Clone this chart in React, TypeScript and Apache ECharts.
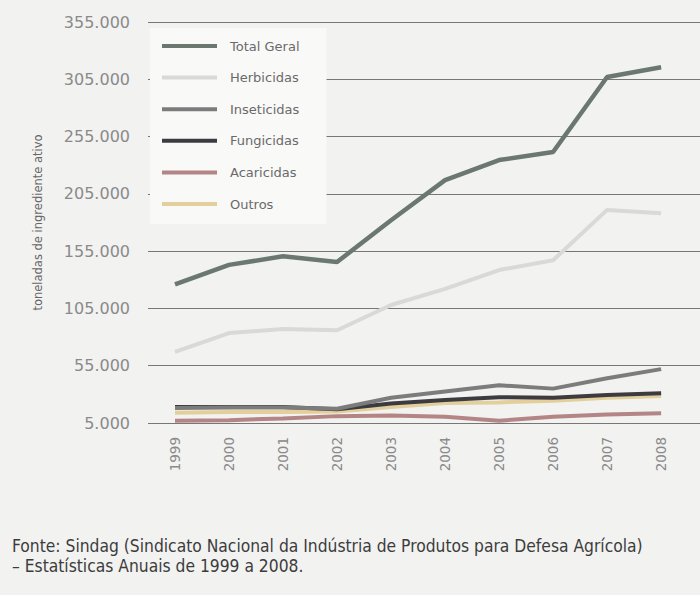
import React, { useEffect, useRef } from "react";
import * as echarts from "echarts";

const years = [1999, 2000, 2001, 2002, 2003, 2004, 2005, 2006, 2007, 2008];
const totalGeral = [126000, 143000, 150500, 145500, 182000, 217000, 234500, 241500, 307000, 315500];
const herbicidas = [67000, 83500, 87000, 86000, 108000, 122000, 138500, 147000, 191000, 188000];
const inseticidas = [18000, 18500, 18500, 17500, 27000, 32500, 38000, 35000, 44000, 52000];
const fungicidas = [19000, 19000, 19000, 17000, 22000, 25000, 27500, 27000, 29500, 31000];
const acaricidas = [7000, 7500, 9000, 11000, 11500, 10500, 7000, 10500, 12500, 13500];
const outros = [14000, 14500, 14500, 15000, 19000, 22500, 23000, 24500, 27000, 28500];

const seriesNames = ["Total Geral", "Herbicidas", "Inseticidas", "Fungicidas", "Acaricidas", "Outros"];
const seriesData = [totalGeral, herbicidas, inseticidas, fungicidas, acaricidas, outros];
const seriesColors = ["#6b786f", "#d9d9d7", "#7c7c7c", "#3d3b40", "#b48585", "#e3cf9c"];

const yAxisName = "toneladas de ingrediente ativo";
const sourceLine1 = "Fonte: Sindag (Sindicato Nacional da Indústria de Produtos para Defesa Agrícola)";
const sourceLine2 = "– Estatísticas Anuais de 1999 a 2008.";

const fmt = (v: number) => String(v).replace(/\B(?=(\d{3})+(?!\d))/g, ".");

export default function App() {
  const ref = useRef<HTMLDivElement>(null);
  useEffect(() => {
    if (!ref.current) return;
    const chart = echarts.init(ref.current, null, { renderer: "svg" });
    const drawOrder = [1, 5, 4, 3, 2, 0];
    const footFont = "'DejaVu Sans Condensed', 'Open Sans', sans-serif";
    chart.setOption({
      animation: false,
      backgroundColor: "#f2f2f1",
      grid: { left: 148, right: 0, top: 22, bottom: 172 },
      legend: {
        data: seriesNames,
        orient: "vertical",
        left: 150,
        top: 28,
        padding: [10, 27, 12, 12],
        backgroundColor: "#f9f9f8",
        icon: "rect",
        itemWidth: 55,
        itemHeight: 4,
        itemGap: 15.6,
        textStyle: { fontFamily: "DejaVu Sans", fontSize: 13, color: "#6a6a6a", lineHeight: 16, padding: [0, 0, 0, 8] },
      },
      xAxis: {
        type: "value",
        min: 1998.5,
        max: 2008.72,
        axisLine: { show: false },
        axisTick: { show: false },
        splitLine: { show: false },
        axisLabel: {
          customValues: years,
          rotate: 90,
          margin: 14,
          fontFamily: "DejaVu Sans",
          fontSize: 13.5,
          color: "#8a8a8a",
          formatter: (v: number) => String(v),
        },
      },
      yAxis: {
        type: "value",
        min: 5000,
        max: 355000,
        interval: 50000,
        name: yAxisName,
        nameLocation: "middle",
        nameGap: 104,
        nameTextStyle: { fontFamily: "DejaVu Sans", fontSize: 11.5, color: "#666" },
        axisLine: { show: false },
        axisTick: { show: false },
        axisLabel: {
          margin: 18,
          fontFamily: "DejaVu Sans",
          fontSize: 16,
          color: "#8a8a8a",
          formatter: (v: number) => fmt(v),
        },
        splitLine: { lineStyle: { color: "#777", width: 1.2 } },
      },
      series: drawOrder.map((i) => ({
        name: seriesNames[i],
        type: "line",
        symbol: "none",
        data: years.map((y, k) => [y, seriesData[i][k]]),
        lineStyle: { color: seriesColors[i], width: i === 0 ? 4.5 : 4 },
        itemStyle: { color: seriesColors[i] },
        z: 2 + drawOrder.indexOf(i),
      })),
      graphic: [
        {
          type: "text",
          left: 12,
          top: 537,
          style: { text: sourceLine1, fontFamily: footFont, fontSize: 17.3, fill: "#3c3c3c" },
        },
        {
          type: "text",
          left: 12,
          top: 557,
          style: { text: sourceLine2, fontFamily: footFont, fontSize: 17.3, fill: "#3c3c3c" },
        },
      ],
    });
    return () => chart.dispose();
  }, []);
  return <div ref={ref} style={{ position: "fixed", left: 0, top: 0, width: 700, height: 595 }} />;
}
